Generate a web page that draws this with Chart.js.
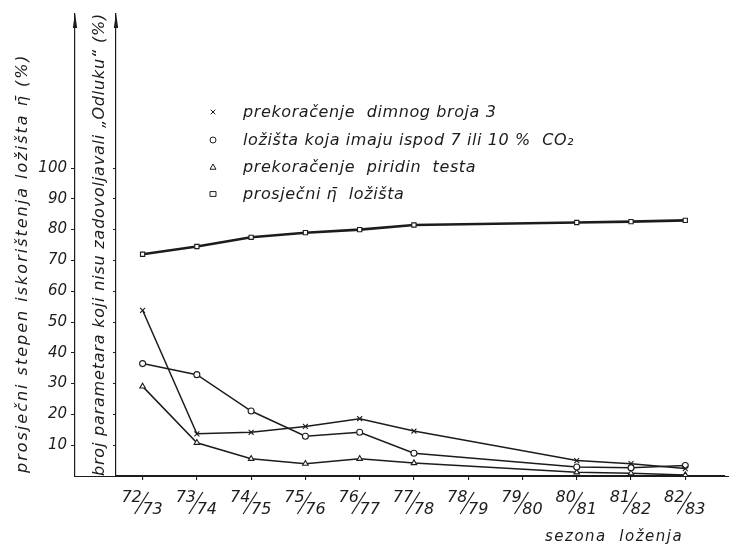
<!DOCTYPE html>
<html>
<head>
<meta charset="utf-8">
<script src="https://cdn.jsdelivr.net/npm/chart.js@4.4.1/dist/chart.umd.min.js"></script>
<style>
html,body{margin:0;padding:0;background:#fff;}
canvas{display:block;}
</style>
</head>
<body>
<canvas id="c" width="730" height="546"></canvas>
<script>
// ---- data ----
const seasons = ['72/73','73/74','74/75','75/76','76/77','77/78','78/79','79/80','80/81','81/82','82/83'];
const dimniBroj = [53.8, 13.7, 14.2, 16.1, 18.6, 14.6, null, null, 5.0, 4.0, 2.4];
const co2       = [36.5, 32.9, 21.1, 12.9, 14.2, 7.4, null, null, 2.9, 2.7, 3.4];
const piridin   = [29.1, 10.8, 5.6, 4.0, 5.6, 4.2, null, null, 1.2, 0.9, 0.3];
const eta       = [72.0, 74.5, 77.5, 79.0, 80.0, 81.5, null, null, 82.3, 82.6, 83.0];
const yTicks = [10, 20, 30, 40, 50, 60, 70, 80, 90, 100];
const seriesLabels = [
  'prekoračenje  dimnog broja 3',
  'ložišta koja imaju ispod 7 ili 10 %  CO₂',
  'prekoračenje  piridin  testa',
  'prosječni η̄  ložišta'
];
const yOuterTitle = 'prosječni stepen iskorištenja ložišta η̄ (%)';
const yInnerTitle = 'broj parametara koji nisu zadovoljavali „Odluku“ (%)';
const xTitle = 'sezona  loženja';

// ---- rendering ----
const INK = '#1c1c1c';
const FAM = 'DejaVu Sans';
const pts = arr => arr.map((v, i) => ({x: i, y: v})).filter(p => p.y !== null);

function mk(label, data, style, radius, width) {
  return {
    label, data: pts(data), yAxisID: 'yOuter', xAxisID: 'x', pointStyle: style, pointRadius: radius,
    borderColor: INK, borderWidth: width, pointBorderColor: INK,
    pointBackgroundColor: '#fff', pointBorderWidth: 1.1, tension: 0, fill: false
  };
}

function marker(ctx, style, x, y, r) {
  ctx.beginPath();
  if (style === 'crossRot') {
    ctx.moveTo(x - r, y - r); ctx.lineTo(x + r, y + r);
    ctx.moveTo(x + r, y - r); ctx.lineTo(x - r, y + r);
    ctx.stroke(); return;
  }
  if (style === 'circle') ctx.arc(x, y, r, 0, Math.PI * 2);
  else if (style === 'triangle') { ctx.moveTo(x, y - r); ctx.lineTo(x + r, y + r * 0.75); ctx.lineTo(x - r, y + r * 0.75); ctx.closePath(); }
  else if (style === 'rect') ctx.rect(x - r, y - r * 0.8, r * 2, r * 1.6);
  ctx.fillStyle = '#fff'; ctx.fill(); ctx.stroke();
}

function vText(ctx, text, x, yBottom, spacing) {
  ctx.save();
  ctx.translate(x, yBottom);
  ctx.rotate(-Math.PI / 2);
  ctx.letterSpacing = spacing + 'px';
  ctx.textAlign = 'left'; ctx.textBaseline = 'middle';
  ctx.fillText(text, 0, 0);
  ctx.restore();
}

const decor = {
  id: 'decor',
  afterDraw(chart) {
    const {ctx, chartArea: ca, scales} = chart;
    const xs = scales.x, yo = scales.yOuter, yi = scales.yInner;
    ctx.save();
    ctx.strokeStyle = INK; ctx.fillStyle = INK; ctx.lineWidth = 1.2;
    // x baseline continues to the outer axis and to the page edge
    const by = Math.round(ca.bottom) + 0.5;
    ctx.beginPath(); ctx.moveTo(yo.right, by); ctx.lineTo(chart.width - 1, by); ctx.stroke();
    // arrow heads
    [yo.right, yi.right].forEach(x => {
      ctx.beginPath(); ctx.moveTo(x, ca.top - 1); ctx.lineTo(x - 2.2, ca.top + 14); ctx.lineTo(x + 2.2, ca.top + 14); ctx.closePath(); ctx.fill();
    });
    // axis titles
    ctx.font = 'italic 16px "' + FAM + '"';
    vText(ctx, yOuterTitle, yo.right - 52, ca.bottom - 3, 2);
    vText(ctx, yInnerTitle, yi.right - 16, ca.bottom, 0.8);
    // category labels as stacked fractions
    ctx.textAlign = 'center'; ctx.textBaseline = 'alphabetic';
    seasons.forEach((s, i) => {
      const [a, b] = s.split('/');
      const x = xs.getPixelForValue(i);
      ctx.fillText(a, x - 11, 502);
      ctx.fillText(b, x + 10, 514);
      ctx.beginPath(); ctx.moveTo(x - 8, 514); ctx.lineTo(x + 6, 492); ctx.stroke();
    });
    // x title
    ctx.textAlign = 'left';
    ctx.font = 'italic 15px "' + FAM + '"';
    ctx.letterSpacing = '1.5px';
    ctx.fillText(xTitle, 545, 541);
    // legend
    ctx.font = 'italic 16px "' + FAM + '"';
    ctx.letterSpacing = '0.6px';
    const ys = [112, 140, 167, 194];
    chart.data.datasets.forEach((ds, k) => {
      ctx.strokeStyle = INK; ctx.lineWidth = 1;
      marker(ctx, ds.pointStyle, 213, ys[k], ds.pointStyle === 'crossRot' ? 2.3 : 3);
      ctx.fillStyle = INK;
      ctx.fillText(ds.label, 243, ys[k] + 5);
    });
    ctx.restore();
  }
};

const tickSet = scale => { scale.ticks = yTicks.map(v => ({value: v})); };

new Chart(document.getElementById('c'), {
  type: 'line',
  data: {
    datasets: [
      mk(seriesLabels[0], dimniBroj, 'crossRot', 3.5, 1.5),
      mk(seriesLabels[1], co2, 'circle', 3, 1.5),
      mk(seriesLabels[2], piridin, 'triangle', 3.2, 1.5),
      mk(seriesLabels[3], eta, 'rect', 3, 2.6)
    ]
  },
  options: {
    responsive: false,
    animation: false,
    devicePixelRatio: 1,
    layout: {padding: {top: 14, left: 0, right: 0, bottom: 0}},
    plugins: {legend: {display: false}, tooltip: {enabled: false}},
    scales: {
      x: {
        type: 'linear', position: 'bottom', min: -0.49, max: 10.73,
        afterBuildTicks: s => { s.ticks = seasons.map((_, i) => ({value: i})); },
        afterFit: s => { s.height = 70; },
        ticks: {display: false},
        grid: {drawOnChartArea: false, drawTicks: true, tickLength: 4, color: INK, lineWidth: 1.1},
        border: {display: true, color: INK, width: 1.2}
      },
      yInner: {
        type: 'linear', position: 'left', weight: 0, min: 0, max: 150,
        afterBuildTicks: tickSet,
        afterFit: s => { s.width = 41; },
        ticks: {display: false},
        grid: {drawOnChartArea: false, drawTicks: true, tickLength: 3, color: INK, lineWidth: 1},
        border: {display: true, color: INK, width: 1.2},
        title: {display: false}
      },
      yOuter: {
        type: 'linear', position: 'left', weight: 1, min: 0, max: 150,
        afterBuildTicks: tickSet,
        afterFit: s => { s.width = 75; },
        ticks: {display: true, color: INK, padding: 4, font: {family: FAM, style: 'italic', size: 15}},
        grid: {drawOnChartArea: false, drawTicks: true, tickLength: 4, color: INK, lineWidth: 1},
        border: {display: true, color: INK, width: 1.2},
        title: {display: false}
      }
    }
  },
  plugins: [decor]
});
</script>
</body>
</html>
